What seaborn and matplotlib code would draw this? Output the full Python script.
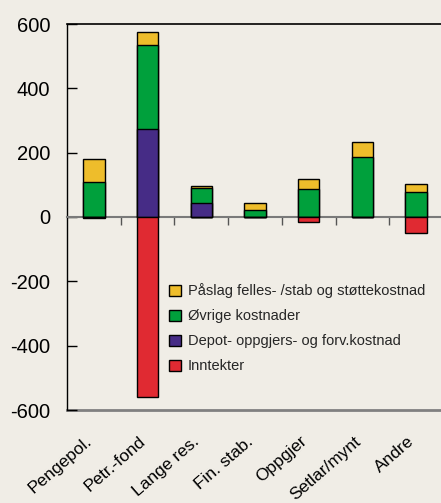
import matplotlib
matplotlib.use("Agg")
import matplotlib.pyplot as plt
import matplotlib.transforms as mtransforms
import seaborn as sns
import numpy as np
import pandas as pd
from matplotlib.patches import Patch

categories = ["Pengepol.", "Petr.-fond", "Lange res.", "Fin. stab.", "Oppgjer", "Setlar/mynt", "Andre"]
depot = [0, 273, 43, 0, 0, 0, 0]
ovrige = [110, 262, 46, 21, 86, 186, 78]
paslag = [69, 39, 7, 21, 31, 47, 25]
inntekter = [-2, -560, 0, 0, -14, 0, -49]
legend_labels = ["Påslag felles- /stab og støttekostnad", "Øvrige kostnader",
                 "Depot- oppgjers- og forv.kostnad", "Inntekter"]
yticks = [600, 400, 200, 0, -200, -400, -600]

c_yellow = "#eebd2b"
c_green = "#00a03c"
c_purple = "#462c86"
c_red = "#e02a32"
bg = "#f0ede6"

sns.set_theme(style="white")
plt.rcParams["font.family"] = ["Liberation Sans", "DejaVu Sans"]

df = pd.DataFrame({"cat": categories, "depot": depot, "ovrige": ovrige,
                   "paslag": paslag, "inntekter": inntekter})
df["top_green"] = df["depot"] + df["ovrige"]
df["top_yellow"] = df["top_green"] + df["paslag"]

fig = plt.figure(figsize=(4.41, 5.03), dpi=100, facecolor=bg)
ax = fig.add_axes([67/441, 93/503, 376/441, 386/503], facecolor=bg)

common = dict(x="cat", order=categories, width=0.4, edgecolor="black",
              linewidth=1.0, zorder=3, ax=ax)
sns.barplot(data=df, y="top_yellow", color=c_yellow, saturation=1, **common)
sns.barplot(data=df, y="top_green", color=c_green, saturation=1, **common)
sns.barplot(data=df, y="depot", color=c_purple, saturation=1, **common)
sns.barplot(data=df, y="inntekter", color=c_red, saturation=1, **common)

ax.set_xlim(-0.5, len(categories) - 0.5)
ax.set_ylim(-600, 600)
ax.set_xlabel("")
ax.set_ylabel("")

# zero line with boundary ticks
ax.spines["bottom"].set_position(("data", 0))
ax.spines["bottom"].set_color("#7a7a7a")
ax.spines["bottom"].set_linewidth(1.5)
ax.set_xticks(np.arange(len(categories) - 1) + 0.5)
ax.set_xticklabels([])
ax.tick_params(axis="x", direction="out", length=6, width=1, color="#555555", bottom=True)

ax.spines["right"].set_visible(False)
ax.spines["top"].set_color("black")
ax.spines["top"].set_linewidth(1.2)
ax.spines["left"].set_color("black")
ax.spines["left"].set_linewidth(1.0)

ax.set_yticks(yticks)
ax.set_yticklabels([str(v) for v in yticks])
ax.tick_params(axis="y", direction="in", length=7, width=1, color="black",
               labelsize=14.5, pad=12, left=True, labelcolor="black")

sec = ax.secondary_xaxis("bottom")
sec.spines["bottom"].set_color("#808080")
sec.spines["bottom"].set_linewidth(2)
sec.set_xticks(np.arange(len(categories)))
sec.set_xticklabels(categories, rotation=41, ha="right", va="center",
                    rotation_mode="anchor", fontsize=12.5, color="black")
sec.tick_params(axis="x", length=0, pad=21)
shift = mtransforms.ScaledTranslation(-4/100, 0, fig.dpi_scale_trans)
for lab in sec.get_xticklabels():
    lab.set_transform(lab.get_transform() + shift)

handles = [Patch(facecolor=c, edgecolor="black", linewidth=1.0)
           for c in [c_yellow, c_green, c_purple, c_red]]
leg = ax.legend(handles, legend_labels, loc="upper left", bbox_to_anchor=(0.257, 0.343),
                frameon=False, fontsize=10.5, handlelength=0.8, handleheight=0.8,
                handletextpad=0.45, labelspacing=0.75, borderaxespad=0)

fig.savefig("out.png", dpi=100, facecolor=bg)
